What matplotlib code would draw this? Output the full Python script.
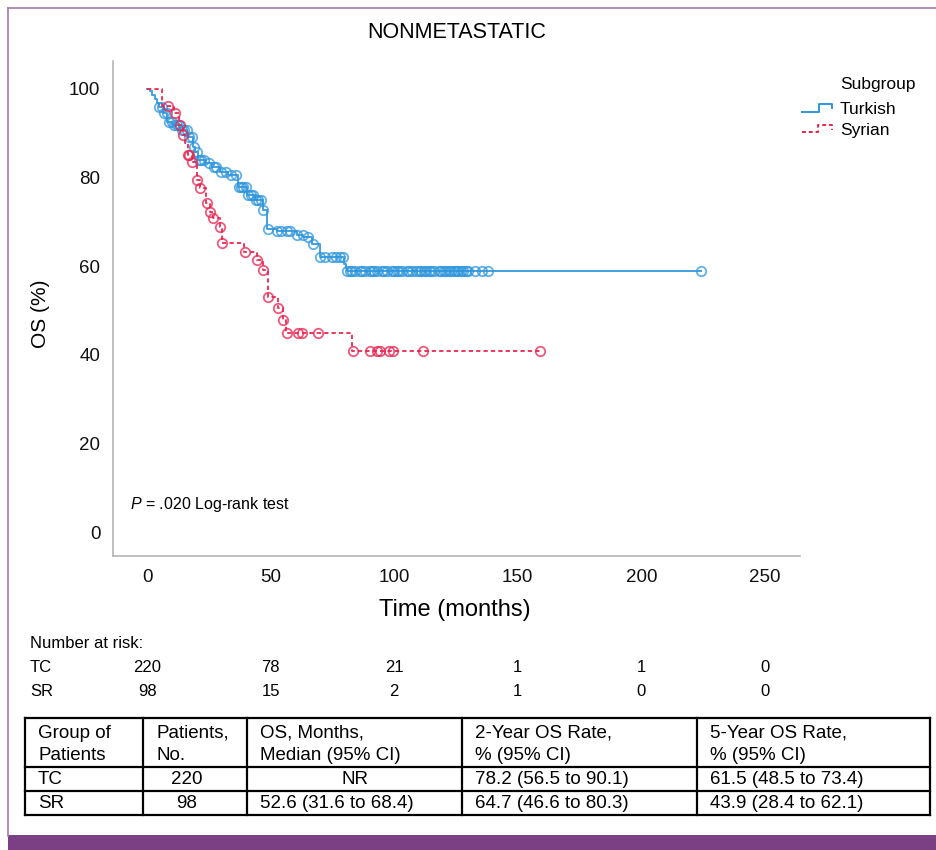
import numpy as np
import matplotlib.pyplot as plt
from matplotlib.lines import Line2D
from matplotlib.patches import Rectangle
import matplotlib.transforms as mtransforms

plt.rcParams['font.family'] = ['Liberation Sans', 'DejaVu Sans']
plt.rcParams['mathtext.fontset'] = 'custom'
plt.rcParams['mathtext.it'] = 'Liberation Sans:italic'
plt.rcParams['mathtext.rm'] = 'Liberation Sans'

W, H = 936, 850

# Kaplan-Meier curves (months, OS %)
tc_time = [0, 1, 2, 3, 4, 5, 6.5, 8.1, 10.1, 13.3, 16.2, 18.6, 19.4, 20.6, 23.5, 26.3,
           29.5, 32.8, 36.8, 40.5, 43.7, 46.9, 48.5, 52.6, 60.7, 63.1, 66.7, 70.0,
           79.5, 80.5, 81.0]
tc_surv = [100, 99.5, 98.6, 97.7, 96.8, 95.9, 94.6, 92.5, 91.9, 90.7, 89.2, 86.9, 85.8,
           84.0, 83.3, 82.4, 81.3, 80.6, 77.9, 76.1, 74.9, 72.7, 68.4, 67.9, 67.0, 66.6,
           65.0, 62.0, 60.6, 59.6, 59.0]
tc_end = 224
tc_cens = [5, 6, 7, 8, 9, 10, 11, 12, 13, 14, 15, 16, 17, 18, 19, 20, 21, 22, 23, 25, 27,
           28, 30, 32, 34, 36, 37, 38, 39, 40, 41, 42, 43, 44, 45, 46, 47, 49, 52.6, 54,
           56.6, 58, 60.7, 63, 65, 67, 70, 72, 75, 76.5, 78, 79.3, 81, 82, 83, 84, 86, 87,
           88, 90, 91, 92, 93, 95, 96, 97, 99, 100, 101, 102, 103, 105, 106, 107, 109,
           110, 111, 112, 113, 114, 115, 116, 118, 119, 120, 121, 122, 123, 124, 125,
           126, 127, 128, 129, 130, 132.7, 135.5, 138, 224]

sr_time = [0, 6, 11, 13, 14.5, 15.2, 16.5, 18, 20, 21.3, 24, 25.4, 26.5, 29.3, 30.2,
           39.4, 44.3, 46.7, 48.8, 52.8, 54.8, 56.4, 82.8]
sr_surv = [100, 96.2, 94.6, 91.9, 89.6, 87.8, 85.0, 83.5, 79.5, 77.7, 74.3, 72.2, 70.9,
           68.8, 65.2, 63.2, 61.4, 59.1, 53.0, 50.6, 47.9, 44.9, 40.9]
sr_end = 159
sr_cens = [8.5, 11.3, 13.3, 14.6, 16.6, 17, 18.2, 20.2, 21.4, 24.3, 25.5, 26.7, 29.5,
           30.3, 39.6, 44.5, 46.9, 49, 53, 55, 56.6, 61, 62.7, 69.2, 83.5, 90, 93, 94.3,
           98, 99.5, 111.6, 159]

# number at risk
risk_times = [0, 50, 100, 150, 200, 250]
tc_risk = [220, 78, 21, 1, 1, 0]
sr_risk = [98, 15, 2, 1, 0, 0]

# summary table
table_header = [["Group of", "Patients"], ["Patients,", "No."], ["OS, Months,", "Median (95% CI)"],
                ["2-Year OS Rate,", "% (95% CI)"], ["5-Year OS Rate,", "% (95% CI)"]]
table_rows = [["TC", "220", "NR", "78.2 (56.5 to 90.1)", "61.5 (48.5 to 73.4)"],
              ["SR", "98", "52.6 (31.6 to 68.4)", "64.7 (46.6 to 80.3)", "43.9 (28.4 to 62.1)"]]

blue = '#2f96dc'
red = '#e8234f'
purple = '#7b3f83'


def fx(px):
    return px / W


def fy(py):
    return 1 - py / H


fig = plt.figure(figsize=(W / 100, H / 100), dpi=100)
ax = fig.add_axes([fx(113), fy(556), fx(800) - fx(113), fy(61) - fy(556)])


def km(time, surv, end, cens, color, ls):
    t = np.array(time + [end])
    s = np.array(surv + [surv[-1]])
    ax.step(t, s, where='post', color=color, lw=1.4, linestyle=ls, alpha=0.9)
    idx = np.searchsorted(np.array(time), np.array(cens), side='right') - 1
    ax.plot(cens, np.array(surv)[idx], 'o', ms=6.8, mfc='none', mec=color, mew=1.3, alpha=0.75)


km(tc_time, tc_surv, tc_end, tc_cens, blue, '-')
km(sr_time, sr_surv, sr_end, sr_cens, red, (0, (2.2, 1.6)))

ax.set_xlim(-13.8, 264.2)
ax.set_ylim(-5.4, 106.3)
ax.set_xticks(risk_times)
ax.set_yticks(range(0, 101, 20))
ax.tick_params(length=0, labelsize=13.5, colors='#111111')
ax.tick_params(axis='y', pad=9)
ax.tick_params(axis='x', pad=9)
for side in ['top', 'right']:
    ax.spines[side].set_visible(False)
for side in ['left', 'bottom']:
    ax.spines[side].set_color('#b5b5b5')
    ax.spines[side].set_linewidth(1.2)

fig.text(fx(130), fy(505), '$P$ = .020 Log-rank test', fontsize=11.5, va='center', ha='left')

# titles and labels
fig.text(fx(457), fy(33), 'NONMETASTATIC', fontsize=15.5, ha='center', va='center')
fig.text(fx(455), fy(610), 'Time (months)', fontsize=17, ha='center', va='center')
fig.text(fx(41), fy(314), 'OS (%)', fontsize=15, ha='center', va='center', rotation=90)

# legend drawn by hand with step-shaped keys
fig.text(fx(840), fy(85), 'Subgroup', fontsize=12.5, va='center', ha='left')
fig.add_artist(Line2D([fx(802), fx(819), fx(819), fx(832), fx(832)],
                      [fy(112), fy(112), fy(104), fy(104), fy(108)], color=blue, lw=1.4))
fig.add_artist(Line2D([fx(802), fx(818), fx(818), fx(832), fx(832)],
                      [fy(132), fy(132), fy(125), fy(125), fy(130)], color=red, lw=1.4,
                      linestyle=(0, (2, 1.5))))
fig.text(fx(840), fy(110), 'Turkish', fontsize=12.5, va='center', ha='left')
fig.text(fx(840), fy(131), 'Syrian', fontsize=12.5, va='center', ha='left')

# number at risk
trans = mtransforms.blended_transform_factory(ax.transData, fig.transFigure)
fig.text(fx(30), fy(643), 'Number at risk:', fontsize=12, va='center')
for label, vals, py in [('TC', tc_risk, 668), ('SR', sr_risk, 692)]:
    fig.text(fx(30), fy(py), label, fontsize=12, va='center')
    for t, v in zip(risk_times, vals):
        fig.text(t, fy(py), str(v), fontsize=12, va='center', ha='center', transform=trans)

# summary table
col_x = [25, 143, 247, 462, 697, 930]
row_y = [718, 767, 791, 815]
for x in col_x:
    fig.add_artist(Line2D([fx(x), fx(x)], [fy(row_y[0]), fy(row_y[-1])], color='black', lw=1.6))
for y in row_y:
    fig.add_artist(Line2D([fx(col_x[0]), fx(col_x[-1])], [fy(y), fy(y)], color='black', lw=1.6))
pad = 13
for i, (l1, l2) in enumerate(table_header):
    fig.text(fx(col_x[i] + pad), fy(733), l1, fontsize=13.5, va='center')
    fig.text(fx(col_x[i] + pad), fy(755), l2, fontsize=13.5, va='center')
for row, py in zip(table_rows, [780, 804]):
    for i, cell in enumerate(row):
        if i == 1:
            fig.text(fx(187), fy(py), cell, fontsize=13.5, va='center', ha='center')
        elif i == 2 and cell == 'NR':
            fig.text(fx(355), fy(py), cell, fontsize=13.5, va='center', ha='center')
        else:
            fig.text(fx(col_x[i] + pad), fy(py), cell, fontsize=13.5, va='center')

# purple frame
fig.add_artist(Line2D([fx(8), fx(8)], [fy(8), fy(836)], color='#a27bab', lw=1.2))
fig.add_artist(Line2D([fx(8), 1], [fy(8), fy(8)], color='#a27bab', lw=1.2))
fig.add_artist(Rectangle((fx(8), 0), 1 - fx(8), fy(835), color=purple, lw=0))

fig.savefig('out.png', dpi=100)
